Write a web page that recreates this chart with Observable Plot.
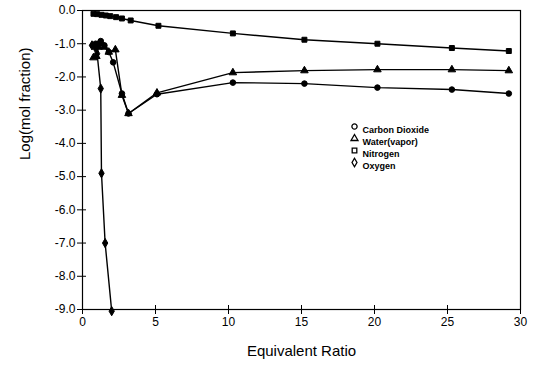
<!DOCTYPE html>
<html><head><meta charset="utf-8">
<script src="https://cdn.jsdelivr.net/npm/d3@7"></script>
<script src="https://cdn.jsdelivr.net/npm/@observablehq/plot@0.6"></script>
<style>
html,body{margin:0;padding:0;background:#fff;}
#chart{width:540px;height:372px;}
</style>
</head><body><div id="chart"></div>
<script>
// Series data: [equivalent ratio, log(mol fraction)]
const co2 = [[0.7,-1.05],[0.9,-1.0],[1.1,-1.0],[1.25,-0.92],[1.5,-1.05],[1.8,-1.25],[2.1,-1.56],[2.7,-2.5],[3.15,-3.1],[5.1,-2.52],[10.3,-2.17],[15.2,-2.2],[20.2,-2.32],[25.3,-2.38],[29.2,-2.5]];
const water = [[0.75,-1.42],[0.95,-1.38],[1.1,-1.1],[1.3,-1.0],[1.5,-1.1],[1.8,-1.25],[2.25,-1.18],[2.7,-2.55],[3.15,-3.1],[5.1,-2.48],[10.3,-1.87],[15.2,-1.81],[20.2,-1.78],[25.3,-1.78],[29.2,-1.81]];
const nitrogen = [[0.75,-0.1],[1.0,-0.11],[1.3,-0.13],[1.6,-0.15],[1.9,-0.17],[2.3,-0.2],[2.7,-0.24],[3.3,-0.3],[5.2,-0.46],[10.3,-0.69],[15.2,-0.88],[20.2,-1.0],[25.3,-1.13],[29.2,-1.22]];
const oxygen = [[0.65,-1.05],[0.85,-1.1],[1.0,-1.3],[1.25,-2.35],[1.3,-4.9],[1.55,-7.0],[2.0,-9.05]];

const seriesNames = ["Carbon Dioxide","Water(vapor)","Nitrogen","Oxygen"];
const seriesSymbols = ["circle","triangle","square","diamond"];
const xTicks = [0,5,10,15,20,25,30];
const yTicks = [0,-1,-2,-3,-4,-5,-6,-7,-8,-9];

const allSeries = [co2, water, nitrogen, oxygen];
const rows = allSeries.flatMap((s, i) => s.map(([x, y]) => ({x, y, name: seriesNames[i], sym: seriesSymbols[i]})));

const font = "Liberation Sans, Arial, sans-serif";

const legendMarks = seriesNames.flatMap((n, i) => [
  Plot.dot([n], {frameAnchor: "top-left", dx: 272, dy: 116 + i * 12, symbol: () => seriesSymbols[i], r: 2.6, stroke: "#000", strokeWidth: 1.3, fill: "none"}),
  Plot.text([n], {frameAnchor: "top-left", dx: 280, dy: 116 + i * 12, text: d => d, textAnchor: "start", fontSize: 9, fontWeight: "bold", fill: "#000"})
]);

const chart = Plot.plot({
  width: 540,
  height: 372,
  marginLeft: 82,
  marginRight: 20,
  marginTop: 10,
  marginBottom: 63,
  style: {fontFamily: font, fontSize: "12px", color: "#000", background: "#fff"},
  x: {domain: [0, 30], ticks: xTicks, tickFormat: d => String(d), label: null},
  y: {domain: [-9, 0], ticks: yTicks, tickFormat: d => d.toFixed(1), label: null},
  marks: [
    Plot.frame({stroke: "#000", strokeWidth: 1.2}),
    Plot.axisX({ticks: xTicks, tickFormat: d => String(d), tickSize: 5, tickPadding: 3, fontSize: 12, label: null}),
    Plot.axisY({ticks: yTicks, tickFormat: d => d.toFixed(1), tickSize: 5, tickPadding: 2, fontSize: 12, label: null}),
    Plot.axisX({ticks: xTicks, tickSize: -4, text: null, label: null}),
    Plot.axisY({ticks: yTicks, tickSize: -4, text: null, label: null}),
    Plot.line(rows, {x: "x", y: "y", z: "name", stroke: "#000", strokeWidth: 1.4}),
    Plot.dot(rows, {x: "x", y: "y", symbol: "sym", r: 2.8, fill: "#000", stroke: "#000", strokeWidth: 1}),
    ...legendMarks,
    Plot.text(["Log(mol fraction)"], {frameAnchor: "left", dx: -57, rotate: -90, text: d => d, fontSize: 15, fill: "#000"}),
    Plot.text(["Equivalent Ratio"], {frameAnchor: "bottom", dy: 46, text: d => d, fontSize: 15, fill: "#000"})
  ]
});
document.getElementById("chart").appendChild(chart);
</script>
</body></html>
